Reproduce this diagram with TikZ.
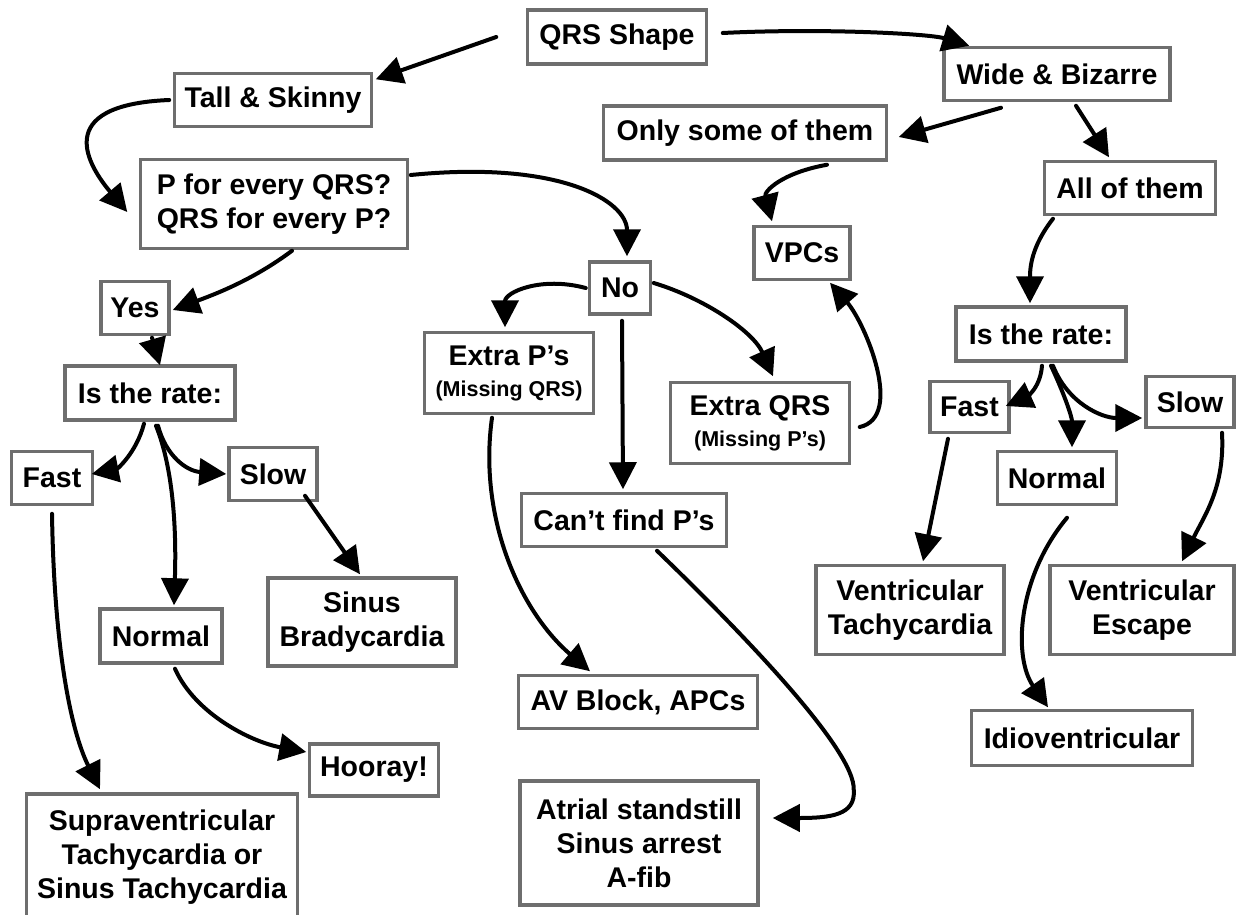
\documentclass[tikz,border=0pt]{standalone}
\usepackage{fontspec}
\setmainfont{Liberation Sans}
\usetikzlibrary{arrows.meta}
\definecolor{boxgray}{gray}{0.43}
\newcommand\subtext[1]{{\fontsize{21.5}{26}\selectfont #1}}
\begin{document}
\begin{tikzpicture}[x=1pt,y=-1pt,
  box/.style={draw=boxgray, line width=3.5pt, fill=white, inner sep=0pt, align=center,
    font=\fontsize{28.5}{34}\selectfont\bfseries},
  arr/.style={line width=4pt, line cap=round, -{Triangle[length=27pt,width=27pt]}}]
\fill[white] (0,0) rectangle (1237,915);
\useasboundingbox (0,0) rectangle (1237,915);

% nodes
\node[box, minimum width=179pt, minimum height=54pt] (qrs) at (617,37) {QRS Shape};
\node[box, minimum width=197pt, minimum height=53pt] (tall) at (273,100) {Tall \& Skinny};
\node[box, minimum width=226pt, minimum height=53pt] (wide) at (1057,74) {Wide \& Bizarre};
\node[box, minimum width=283pt, minimum height=54pt] (only) at (745,133) {Only some of them};
\node[box, minimum width=171pt, minimum height=53pt] (all) at (1130,188) {All of them};
\node[box, minimum width=267pt, minimum height=89pt] (pq) at (274,204) {P for every QRS?\\QRS for every P?};
\node[box, minimum width=96pt, minimum height=53pt] (vpc) at (802,253) {VPCs};
\node[box, minimum width=61pt, minimum height=52pt] (no) at (620,288) {No};
\node[box, minimum width=68pt, minimum height=53pt] (yes) at (135,308) {Yes};
\node[box, minimum width=169pt, minimum height=81pt] (extp) at (509,373) {Extra P’s\\[-3pt]\subtext{(Missing QRS)}};
\node[box, minimum width=179pt, minimum height=81pt] (extq) at (760,423) {Extra QRS\\[-3pt]\subtext{(Missing P’s)}};
\node[box, minimum width=170pt, minimum height=54pt] (rateR) at (1041,334) {Is the rate:};
\node[box, minimum width=170pt, minimum height=54pt] (rateL) at (150,393) {Is the rate:};
\node[box, minimum width=79pt, minimum height=51pt] (fastR) at (969.5,407) {Fast};
\node[box, minimum width=88pt, minimum height=51pt] (slowR) at (1190,402) {Slow};
\node[box, minimum width=119pt, minimum height=53pt] (normR) at (1057,478) {Normal};
\node[box, minimum width=81pt, minimum height=53pt] (fastL) at (52,478) {Fast};
\node[box, minimum width=88pt, minimum height=53pt] (slowL) at (273,474) {Slow};
\node[box, minimum width=205pt, minimum height=53pt] (cant) at (624,520) {Can’t find P’s};
\node[box, minimum width=122pt, minimum height=54pt] (normL) at (161,636) {Normal};
\node[box, minimum width=188pt, minimum height=88pt] (brady) at (362,622) {Sinus\\Bradycardia};
\node[box, minimum width=188pt, minimum height=89pt] (vtach) at (910,610) {Ventricular\\Tachycardia};
\node[box, minimum width=184pt, minimum height=89pt] (vesc) at (1142,610) {Ventricular\\Escape};
\node[box, minimum width=239pt, minimum height=53pt] (avb) at (638,702) {AV Block, APCs};
\node[box, minimum width=221pt, minimum height=55pt] (idio) at (1082,738) {Idioventricular};
\node[box, minimum width=129pt, minimum height=52pt] (hooray) at (374,770) {Hooray!};
\node[box, minimum width=271pt, minimum height=126pt] (supra) at (162,857) {Supraventricular\\Tachycardia or\\Sinus Tachycardia};
\node[box, minimum width=238pt, minimum height=124pt] (atrial) at (639,843) {Atrial standstill\\Sinus arrest\\A-fib};

% connectors
\draw[arr] ([shift={(-29.5,0)}]qrs.west) -- ([shift={(2.5,7.5)}]tall.north east);
\draw[arr] ([shift={(14.5,-4)}]qrs.east) .. controls +(100,-5) and +(-40,-12) .. ([shift={(27,0)}]wide.north west);
\draw[arr] ([shift={(-3.5,0)}]tall.west) .. controls +(-120,5) and +(-38,-45) .. ([shift={(-11.5,8)}]pq.west);
\draw[arr] ([shift={(-56,5.5)}]wide.south) -- ([shift={(10.5,4)}]only.east);
\draw[arr] ([shift={(19,3.5)}]wide.south) -- ([shift={(-21,-2.5)}]all.north);
\draw[arr] ([shift={(82,3)}]only.south) .. controls +(-45,8) and +(-8,-30) .. ([shift={(-30,-3.5)}]vpc.north);
\draw[arr] ([shift={(-77,2.5)}]all.south) .. controls +(-22,28) and +(0,-35) .. ([shift={(-11,-2)}]rateR.north);
\draw[arr] ([shift={(8.5,4)}]extq.east) .. controls +(45,-10) and +(35,40) .. ([shift={(28,1.5)}]vpc.south);
\draw[arr] ([shift={(1.5,-29)}]pq.east) .. controls +(150,-15) and +(0,-55) .. ([shift={(7,-4)}]no.north);
\draw[arr] ([shift={(18,0.5)}]pq.south) .. controls +(-40,30) and +(40,-15) .. ([shift={(2,2)}]yes.east);
\draw[arr] ([shift={(17,1.5)}]yes.south) -- ([shift={(10,1)}]rateL.north);
\draw[arr] ([shift={(-2,0)}]no.west) .. controls +(-45,-12) and +(0,-35) .. ([shift={(-4,-3.5)}]extp.north);
\draw[arr] ([shift={(1.5,-5)}]no.east) .. controls +(50,15) and +(-20,-45) .. ([shift={(13,-4.5)}]extq.north);
\draw[arr] ([shift={(2,5)}]no.south) -- ([shift={(-1,-2.5)}]cant.north);
\draw[arr] ([shift={(-17,2.5)}]extp.south) .. controls +(-14,100) and +(-70,-60) .. ([shift={(-48,-2.5)}]avb.north);
\draw[arr] ([shift={(33,2.5)}]cant.south) .. controls +(83,80) and +(2,-40) .. ([shift={(94,-53)}]atrial.east) .. controls +(2,25) and +(58,0) .. ([shift={(13,-25)}]atrial.east);
\draw[arr] ([shift={(-6,2)}]rateL.south) .. controls +(-8,30) and +(25,-5) .. ([shift={(-2.5,-4)}]fastL.east);
\draw[arr] ([shift={(6,4)}]rateL.south) .. controls +(20,50) and +(2,-60) .. ([shift={(13,-2)}]normL.north);
\draw[arr] ([shift={(8,4)}]rateL.south) .. controls +(8,30) and +(-40,-3) .. ([shift={(-1,0)}]slowL.west);
\draw[arr] ([shift={(32,-6.5)}]slowL.south) -- ([shift={(-2,-2)}]brady.north);
\draw[arr] ([shift={(0,7.5)}]fastL.south) .. controls +(2,130) and +(-30,-60) .. ([shift={(-62,-3)}]supra.north);
\draw[arr] ([shift={(14,4)}]normL.south) .. controls +(20,45) and +(-55,-10) .. ([shift={(-1.5,-18)}]hooray.west);
\draw[arr] ([shift={(1,3)}]rateR.south) .. controls +(-2,25) and +(18,-8) .. ([shift={(-5,-1)}]fastR.east);
\draw[arr] ([shift={(10,3)}]rateR.south) .. controls +(14,30) and +(0,-30) .. ([shift={(15,-2.5)}]normR.north);
\draw[arr] ([shift={(12,3)}]rateR.south) .. controls +(15,38) and +(-40,0) .. ([shift={(-2,16)}]slowR.west);
\draw[arr] ([shift={(-21.5,4.5)}]fastR.south) -- ([shift={(13,-2.5)}]vtach.north);
\draw[arr] ([shift={(32,3.5)}]slowR.south) .. controls +(3,55) and +(22,-45) .. ([shift={(40,-2.5)}]vesc.north);
\draw[arr] ([shift={(10,11.5)}]normR.south) .. controls +(-50,60) and +(-35,-50) .. ([shift={(-34,-1.5)}]idio.north);
\end{tikzpicture}
\end{document}
